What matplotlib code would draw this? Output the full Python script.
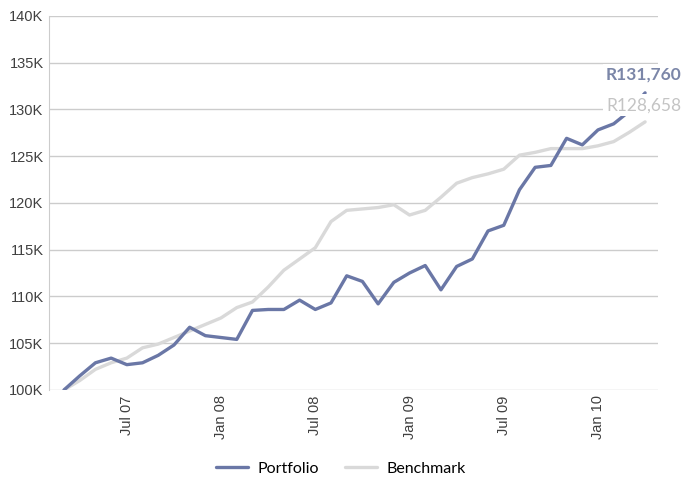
import numpy as np
import matplotlib.pyplot as plt

# monthly values, Mar 2007 .. Apr 2010 (in thousands of Rand)
months = ['Mar 07', 'Apr 07', 'May 07', 'Jun 07', 'Jul 07', 'Aug 07', 'Sep 07', 'Oct 07', 'Nov 07', 'Dec 07',
          'Jan 08', 'Feb 08', 'Mar 08', 'Apr 08', 'May 08', 'Jun 08', 'Jul 08', 'Aug 08', 'Sep 08', 'Oct 08',
          'Nov 08', 'Dec 08', 'Jan 09', 'Feb 09', 'Mar 09', 'Apr 09', 'May 09', 'Jun 09', 'Jul 09', 'Aug 09',
          'Sep 09', 'Oct 09', 'Nov 09', 'Dec 09', 'Jan 10', 'Feb 10', 'Mar 10', 'Apr 10']
portfolio = [100.0, 101.5, 102.9, 103.4, 102.7, 102.9, 103.7, 104.8, 106.7, 105.8,
             105.6, 105.4, 108.5, 108.6, 108.6, 109.6, 108.6, 109.3, 112.2, 111.6,
             109.2, 111.5, 112.5, 113.3, 110.7, 113.2, 114.0, 117.0, 117.6, 121.4,
             123.8, 124.0, 126.9, 126.2, 127.8, 128.45, 129.8, 131.76]
benchmark = [100.0, 101.0, 102.2, 102.9, 103.4, 104.5, 104.9, 105.6, 106.3, 107.0,
             107.7, 108.8, 109.4, 111.0, 112.8, 114.0, 115.2, 118.0, 119.2, 119.35,
             119.5, 119.8, 118.7, 119.2, 120.6, 122.1, 122.7, 123.1, 123.6, 125.1,
             125.4, 125.8, 125.8, 125.8, 126.1, 126.55, 127.55, 128.658]
tick_months = ['Jul 07', 'Jan 08', 'Jul 08', 'Jan 09', 'Jul 09', 'Jan 10']
yticks = [100, 105, 110, 115, 120, 125, 130, 135, 140]

pf_color = '#6a77a6'
bm_color = '#d9d9d9'

fig = plt.figure(figsize=(6.82, 4.79), dpi=100)
ax = fig.add_axes([0.072, 0.186, 0.893, 0.781])

x = np.arange(len(months))
ax.plot(x, benchmark, color=bm_color, lw=2.4, label='Benchmark', solid_capstyle='round', zorder=2)
ax.plot(x, portfolio, color=pf_color, lw=2.4, label='Portfolio', solid_capstyle='round', zorder=2.1)

ax.set_xlim(-0.95, 37.83)
ax.set_ylim(100, 140)
ax.set_yticks(yticks)
ax.set_yticklabels(['%dK' % v for v in yticks], fontsize=10.5, family='Liberation Sans', color='#404040')
ax.set_xticks([months.index(m) for m in tick_months])
ax.set_xticklabels(tick_months, rotation=90, fontsize=10.5, family='Liberation Sans', color='#404040')
ax.tick_params(length=0, pad=4)
ax.grid(axis='y', color='#cccccc', lw=1)
ax.set_axisbelow(True)
for s in ['top', 'right', 'bottom']:
    ax.spines[s].set_visible(False)
ax.spines['left'].set_color('#cccccc')

# end value labels (white box hides the line beneath)
box = dict(facecolor='white', edgecolor='none', pad=2)
ax.annotate('R131,760', xy=(x[-1], portfolio[-1]), xytext=(26, 13), textcoords='offset points',
            ha='right', va='center', fontsize=12.5, fontweight='bold', family='Lato',
            color='#7b86a8', bbox=box, annotation_clip=False)
ax.annotate('R128,658', xy=(x[-1], benchmark[-1]), xytext=(26, 12), textcoords='offset points',
            ha='right', va='center', fontsize=12.5, family='Lato',
            color='#c4c4c4', bbox=box, annotation_clip=False)

handles, labels = ax.get_legend_handles_labels()
fig.legend(handles[::-1], labels[::-1], loc='center', bbox_to_anchor=(0.5, 0.021), ncol=2, frameon=False,
           prop={'family': 'Lato', 'size': 11.5}, handlelength=2.0, columnspacing=1.6, handletextpad=0.6)

fig.savefig('out.png', dpi=100)
